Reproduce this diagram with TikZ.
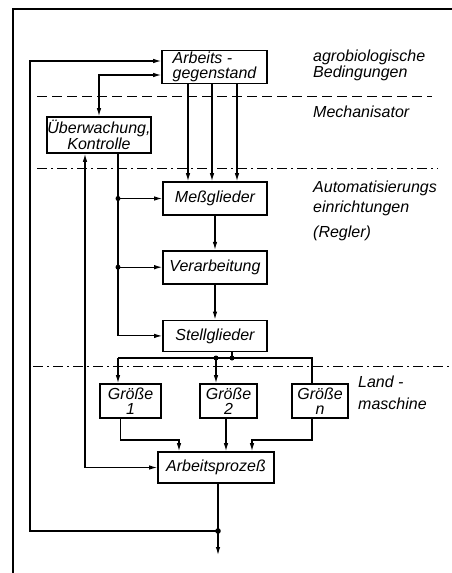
\documentclass[tikz,border=0pt]{standalone}
\usepackage{fontspec}
\setmainfont{Liberation Sans}
\usetikzlibrary{arrows.meta,positioning}

\begin{document}
\begin{tikzpicture}[x=1pt,y=-1pt,font=\fontsize{16}{15.5}\selectfont\itshape,
  >={Latex[length=8pt,width=4.5pt]},
  block/.style={draw,line width=1.7pt,minimum height=33pt,inner sep=0.5pt,align=center},
  conn/.style={line width=1.1pt},
  border/.style={line width=0.8pt},
  zone/.style={align=left,anchor=north west,inner sep=0pt}]
\useasboundingbox (0,0) rectangle (452,573);
% Rahmen
\draw[line width=1.3pt] (13,573) -- (13,9) -- (452,9);
% Bereichsgrenzen
\draw[border,dash pattern=on 10pt off 5pt] (37,96) -- (432,96);
\draw[border,dash pattern=on 10pt off 4pt on 2pt off 4pt] (37,168) -- (438,168);
\draw[border,dash pattern=on 10pt off 4pt on 2pt off 4pt] (33,366) -- (452,366);
\node[zone,font=\fontsize{16}{16}\selectfont\itshape] (agro) at (313,50) {agrobiologische\\Bedingungen};
\node[zone] (mech) at (313,106) {Mechanisator};
\node[zone,font=\fontsize{16}{20}\selectfont\itshape] (auto) at (313,181) {Automatisierungs\\einrichtungen\\[5pt](Regler)};
\node[zone,font=\fontsize{16}{22}\selectfont\itshape] (land) at (358,376) {Land -\\maschine};
% Bloecke
\node[block,minimum width=105pt,align=left] (gegen) at (214.5,67) {Arbeits -\\gegenstand};
\node[block,minimum width=104pt,minimum height=36pt] (kontr) at (99,135) {Überwachung,\\Kontrolle};
\node[block,minimum width=104pt] (mess) at (215,198.5) {Meßglieder};
\node[block,minimum width=104pt,below=34pt of mess] (verarb) {Verarbeitung};
\node[block,minimum width=104pt,minimum height=31pt,below=35pt of verarb] (stell) {Stellglieder};
\node[block,minimum width=61pt,minimum height=34pt] (g1) at (130.5,401) {Größe\\1};
\node[block,minimum width=57pt,minimum height=34pt] (g2) at (228.5,401) {Größe\\2};
\node[block,minimum width=56pt,minimum height=34pt] (gn) at (320,401) {Größe\\n};
\node[block,minimum width=116pt,minimum height=31pt] (proz) at (216,467.5) {Arbeitsprozeß};
% Verbindungen
\foreach \dx in {-26.5,-2.5,22.5}
  \draw[conn,->] ([xshift=\dx pt]gegen.south) -- ([xshift=\dx pt]gegen.south |- mess.north);
\draw[conn,<->] ([yshift=-8pt]gegen.west) -| (kontr.north);
\coordinate (k1) at ([xshift=19pt]kontr.south);
\draw[conn,->] (k1) |- (stell.west);
\draw[conn,->] (k1 |- mess.west) -- (mess.west);
\draw[conn,->] (k1 |- verarb.west) -- (verarb.west);
\fill (k1 |- mess.west) circle (2.5pt) (k1 |- verarb.west) circle (2.5pt);
\draw[conn,<->] ([xshift=-14pt]kontr.south) |- (proz.west);
\draw[conn,->] (mess) -- (verarb);
\draw[conn,->] (verarb) -- (stell);
% Stellglieder auf die Groessen
\coordinate (sv) at ([xshift=17pt]stell.south |- 0,358);
\coordinate (v1) at (118,358);
\coordinate (v2) at (216,358);
\coordinate (vn) at (312,358);
\draw[conn] ([xshift=17pt]stell.south) -- (sv);
\draw[conn] (v1) -- (vn) -- (vn |- gn.north);
\draw[conn,->] (v1) -- (v1 |- g1.north);
\draw[conn,->] (v2) -- (v2 |- g2.north);
\fill (sv) circle (2.5pt) (v2) circle (2.5pt);
% Groessen auf den Arbeitsprozess
\draw[conn,->] ([xshift=-10pt]g1.south) |- ([xshift=-37pt]proz.north |- 0,440) -- ([xshift=-37pt]proz.north);
\draw[conn,->] ([xshift=-2.5pt]g2.south) -- ([xshift=-2.5pt]g2.south |- proz.north);
\draw[conn,->] ([xshift=-8pt]gn.south) |- ([xshift=36pt]proz.north |- 0,440) -- ([xshift=36pt]proz.north);
% Ausgang und Rueckfuehrung
\coordinate (aus) at ([xshift=2pt]proz.south |- 0,531);
\coordinate (lk) at (30,531);
\draw[conn,->] ([xshift=2pt]proz.south) -- (aus) -- ++(0,24);
\fill (aus) circle (2.8pt);
\draw[conn,->] (aus) -- (lk) |- ([yshift=6pt]gegen.west);
\end{tikzpicture}
\end{document}
